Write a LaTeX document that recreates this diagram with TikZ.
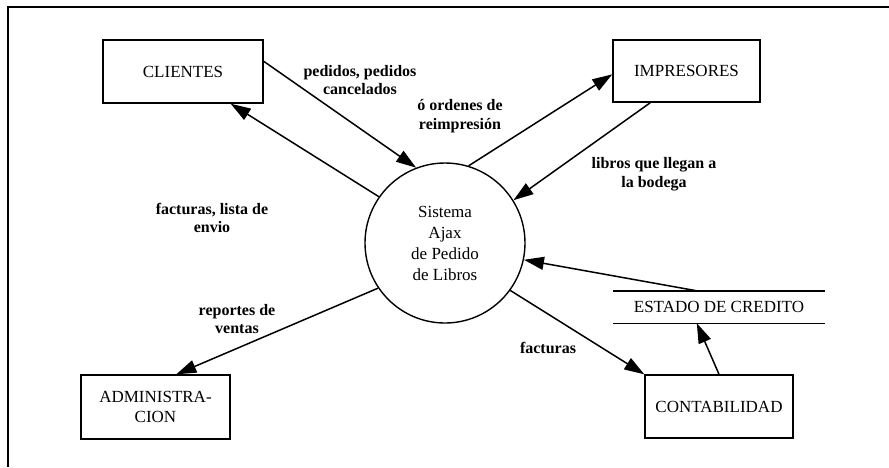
\documentclass[tikz,border=0pt]{standalone}
\usepackage{fontspec}
\setmainfont{Liberation Serif}
\usetikzlibrary{arrows.meta,calc}
\tikzset{
  ent/.style={draw,line width=1.4pt,inner sep=0pt,align=center,font=\fontsize{17}{20}\selectfont},
  proc/.style={draw,circle,line width=1.4pt,minimum size=160pt,inner sep=0pt,align=center,font=\fontsize{17}{21}\selectfont},
  lbl/.style={align=center,inner sep=0pt,font=\fontsize{16}{18.5}\selectfont\bfseries},
  flow/.style={line width=1.5pt,-{Triangle[length=20pt,width=13pt]}},
  store/.style={line width=1.4pt}
}
\begin{document}
\begin{tikzpicture}[x=1pt,y=-1pt]
\useasboundingbox (0,0) rectangle (889,467);
\draw[line width=2pt] (889,7) -- (8,7) -- (8,467);

\node[ent,minimum width=160pt,minimum height=63pt] (cli) at (183,71.5) {CLIENTES};
\node[ent,minimum width=147pt,minimum height=62pt] (imp) at (686.5,71) {IMPRESORES};
\node[ent,minimum width=149pt,minimum height=64pt] (adm) at (155.5,407) {ADMINISTRA-\\CION};
\node[ent,minimum width=148pt,minimum height=63pt] (con) at (719,406.5) {CONTABILIDAD};
\node[proc] (sys) at (445,243) {Sistema\\Ajax\\de Pedido\\de Libros};
\node[inner sep=0pt,minimum width=212pt,minimum height=32pt,font=\fontsize{17}{20}\selectfont] (est) at (719,307) {ESTADO DE CREDITO};
\draw[store] (est.north west) -- (est.north east);
\draw[store] (est.south west) -- (est.south east);

\draw[flow] ($(cli.north east)+(0,22)$) -- (sys.111);
\draw[flow] (sys.145.6) -- ($(cli.south east)+(-33,0)$);
\draw[flow] (sys.73.6) -- ($(imp.north west)+(0,35)$);
\draw[flow] ($(imp.south west)+(38,0)$) -- (sys.32.7);
\draw[flow] ($(est.north west)+(84,0)$) -- (sys.-12);
\draw[flow] (sys.-36.4) -- (con.north west);
\draw[flow] (con.north) -- ($(est.south west)+(84,0)$);
\draw[flow] (sys.214.6) -- ($(adm.north west)+(96,0)$);

\node[lbl] (l1) at (360,80) {pedidos, pedidos\\cancelados};
\node[lbl] (l2) at (212,218) {facturas, lista de\\envio};
\node[lbl] (l3) at (460,116) {ó ordenes de\\reimpresión};
\node[lbl] (l4) at (654,174) {libros que llegan a\\la bodega};
\node[lbl] (l5) at (237,319) {reportes de\\ventas};
\node[lbl] (l6) at (548,348) {facturas};
\end{tikzpicture}
\end{document}
